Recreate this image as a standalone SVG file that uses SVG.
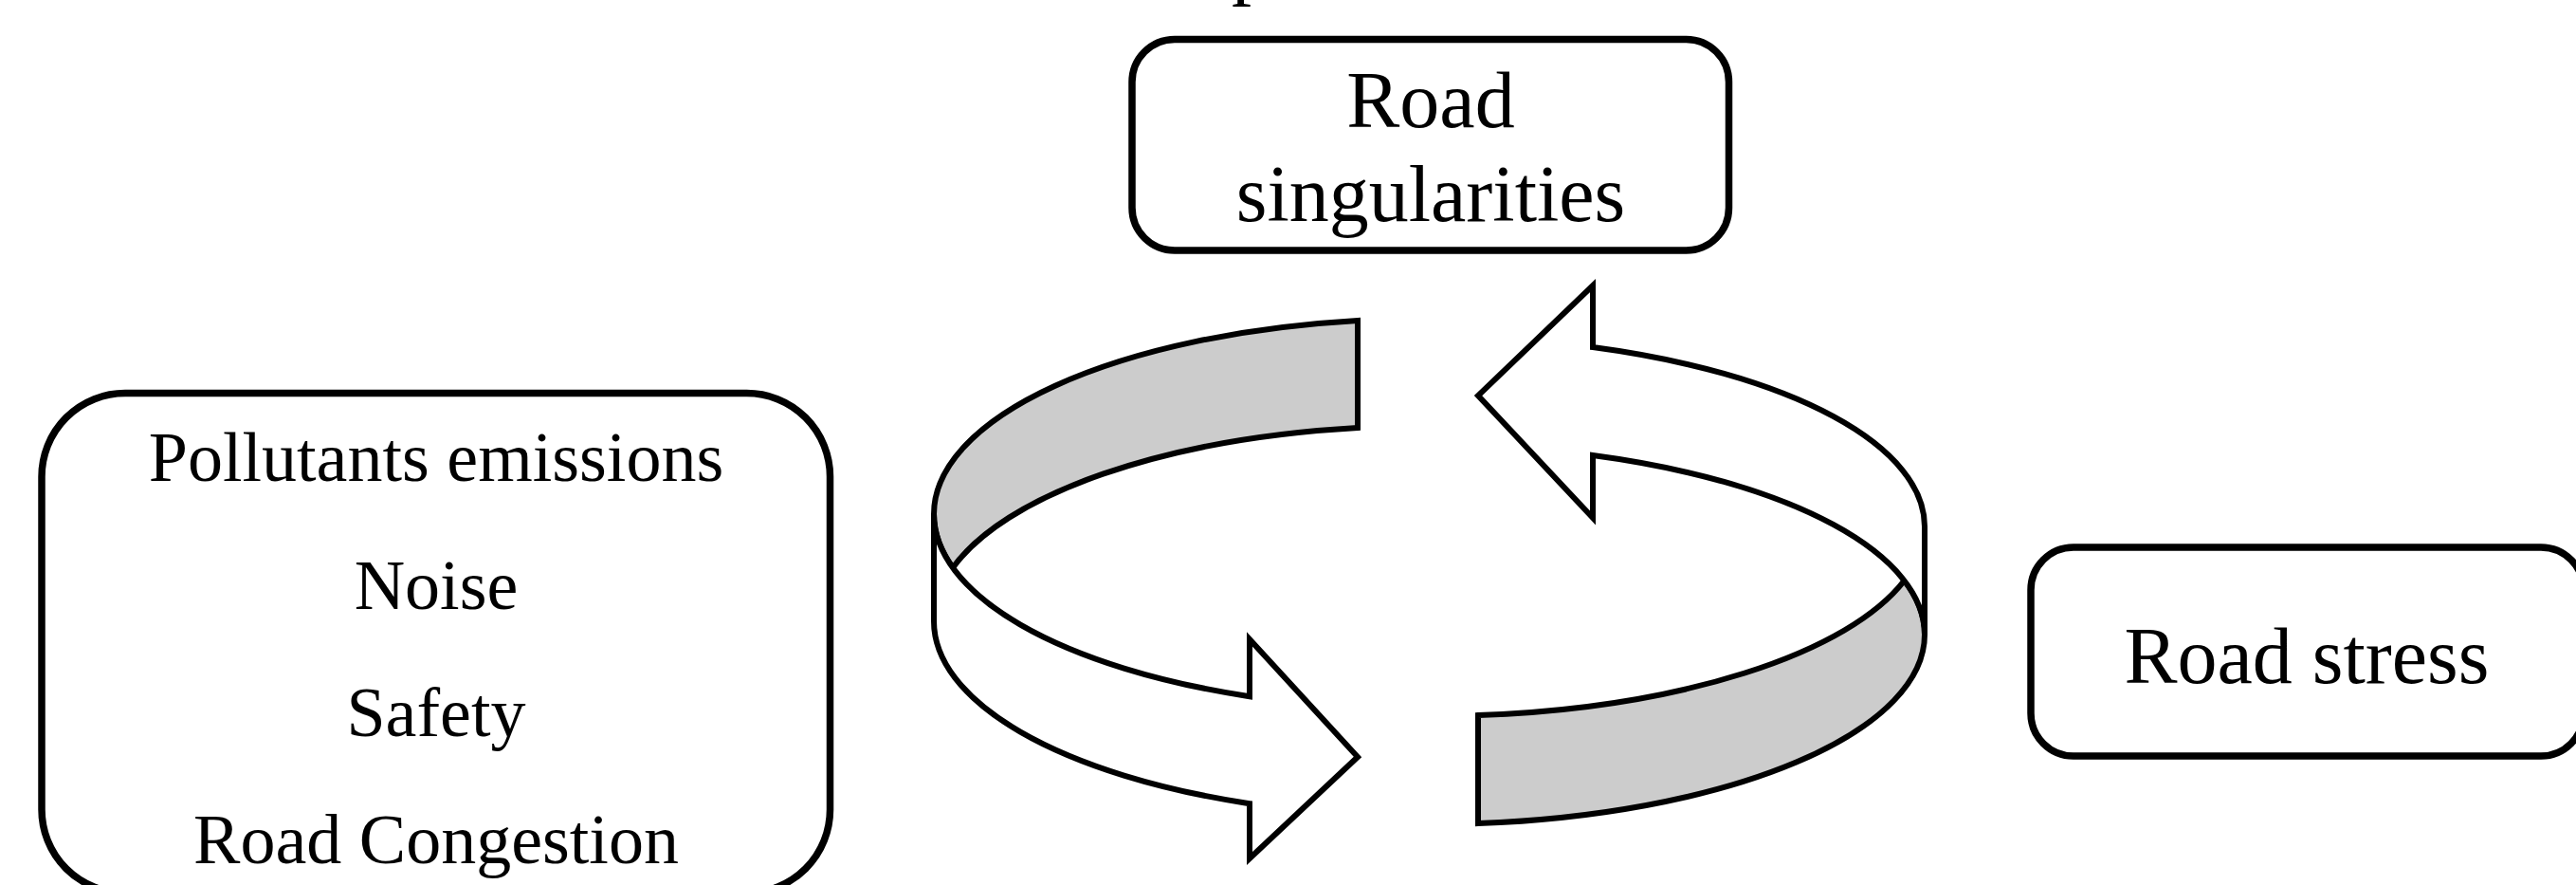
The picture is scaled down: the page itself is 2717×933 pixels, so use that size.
<svg xmlns="http://www.w3.org/2000/svg" width="2717" height="933" viewBox="0 0 2717 933">
  <style>
    .box { fill: #ffffff; stroke: #000000; stroke-width: 7.5; }
    .lbl { font-family: "Liberation Serif", "Times New Roman", serif; fill: #000000; text-anchor: middle; }
    .band { fill: #cccccc; stroke: #000000; stroke-width: 6; stroke-linejoin: miter; stroke-miterlimit: 10; }
    .arrow { fill: #ffffff; stroke: #000000; stroke-width: 6; stroke-linejoin: miter; stroke-miterlimit: 10; }
  </style>
  <rect width="2717" height="933" fill="#ffffff"/>
  <text class="lbl" x="1299" y="-11" font-size="84" style="text-anchor:start">p</text>

  <g id="node-effects">
    <rect class="box" x="44" y="414.5" width="831.5" height="527" rx="88" ry="88"/>
    <text class="lbl" x="460" y="507" font-size="74">Pollutants emissions</text>
    <text class="lbl" x="460" y="641.5" font-size="74">Noise</text>
    <text class="lbl" x="460" y="776" font-size="74">Safety</text>
    <text class="lbl" x="460" y="910" font-size="74">Road Congestion</text>
  </g>

  <g id="node-singularities">
    <rect class="box" x="1194" y="41.5" width="629.5" height="222.5" rx="45" ry="45"/>
    <text class="lbl" x="1509" y="134" font-size="84">Road</text>
    <text class="lbl" x="1509" y="233" font-size="84">singularities</text>
  </g>

  <g id="node-stress">
    <rect class="box" x="2142" y="577" width="583" height="220" rx="45" ry="45"/>
    <text class="lbl" x="2433" y="720" font-size="84">Road stress</text>
  </g>

  <g id="connectors">
    <path class="band" d="M 1432 338 A 520 206 0 0 0 985 542 A 520 206 0 0 0 1005 598.5 A 520 206 0 0 1 1432 451 Z"/>
    <path class="arrow" d="M 985 542 A 520 206 0 0 0 1318 734.2 L 1318 674 L 1432 798 L 1318 905 L 1318 847.2 A 520 206 0 0 1 985 655 Z"/>
    <path class="band" d="M 1559 868.1 A 520 200 0 0 0 2030 669 A 520 200 0 0 0 2008.6 612 A 520 200 0 0 1 1559 754.1 Z"/>
    <path class="arrow" d="M 2030 555 A 520 200 0 0 0 1680 366 L 1680 301 L 1559 417 L 1680 546 L 1680 480 A 520 200 0 0 1 2030 669 Z"/>
  </g>
</svg>
